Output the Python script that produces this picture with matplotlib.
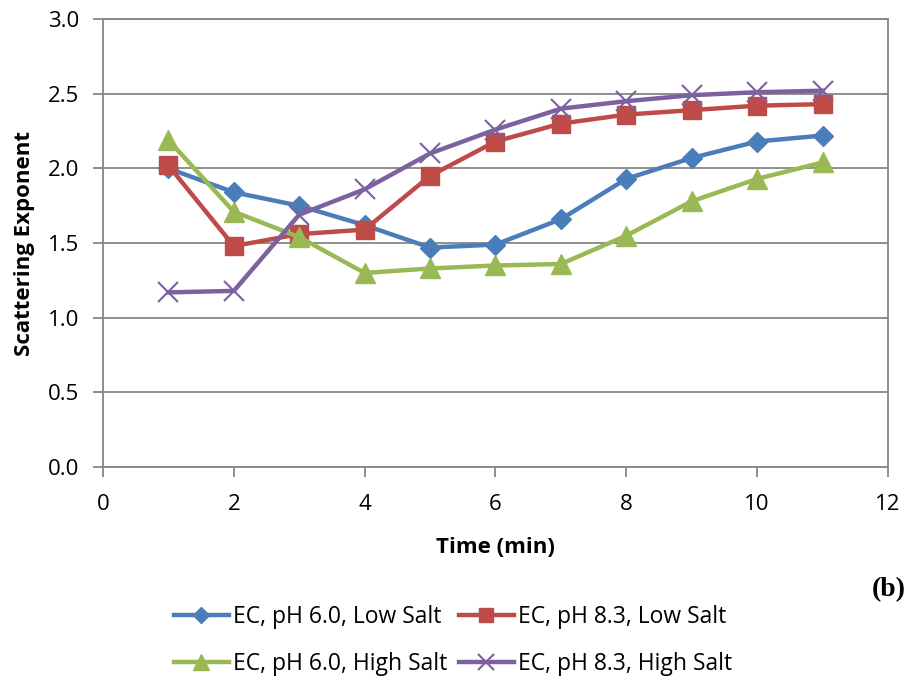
import matplotlib.pyplot as plt

plt.rcParams['font.family'] = ['Open Sans', 'DejaVu Sans']

# Scattering exponent over time for each condition
time_min = [1, 2, 3, 4, 5, 6, 7, 8, 9, 10, 11]
ph60_low = [2.00, 1.84, 1.75, 1.62, 1.47, 1.49, 1.66, 1.93, 2.07, 2.18, 2.22]
ph83_low = [2.02, 1.48, 1.56, 1.59, 1.95, 2.18, 2.30, 2.36, 2.39, 2.42, 2.43]
ph60_high = [2.19, 1.71, 1.54, 1.30, 1.33, 1.35, 1.36, 1.55, 1.78, 1.93, 2.04]
ph83_high = [1.17, 1.18, 1.69, 1.86, 2.10, 2.26, 2.40, 2.45, 2.49, 2.51, 2.52]

labels = ['EC, pH 6.0, Low Salt', 'EC, pH 8.3, Low Salt',
          'EC, pH 6.0, High Salt', 'EC, pH 8.3, High Salt']
x_ticks = [0, 2, 4, 6, 8, 10, 12]
y_ticks = [0.0, 0.5, 1.0, 1.5, 2.0, 2.5, 3.0]

fig = plt.figure(figsize=(9.08, 6.79), dpi=100)
ax = fig.add_axes([0.1134, 0.312, 0.8646, 0.66])

grey = '#868686'
ax.plot(time_min, ph60_low, color='#4A7EBB', lw=3.2, marker='D', ms=10,
        label=labels[0], zorder=3)
ax.plot(time_min, ph83_low, color='#BE4B48', lw=3.2, marker='s', ms=13,
        label=labels[1], zorder=3)
ax.plot(time_min, ph60_high, color='#98B954', lw=3.2, marker='^', ms=15,
        label=labels[2], zorder=3)
ax.plot(time_min, ph83_high, color='#7D60A0', lw=3.2, marker='x', ms=14,
        mew=1.5, label=labels[3], zorder=4)

ax.set_xlim(0, 12)
ax.set_ylim(0, 3.0)
ax.set_xticks(x_ticks)
ax.set_yticks(y_ticks)
ax.set_yticklabels([f'{v:.1f}' for v in y_ticks])
ax.yaxis.grid(True, color=grey, lw=1.3)
ax.set_axisbelow(True)
for side in ['left', 'right', 'top', 'bottom']:
    ax.spines[side].set_color(grey)
    ax.spines[side].set_linewidth(1.3)
ax.tick_params(axis='both', direction='out', length=7, width=1.3,
               color=grey, labelsize=16, pad=10)
ax.tick_params(axis='x', pad=12)

ax.set_xlabel('Time (min)', fontsize=16, fontweight='bold', labelpad=16)
ax.set_ylabel('Scattering Exponent', fontsize=16, fontweight='bold', labelpad=9)

# row-wise legend order: fig.legend fills columns first
handles, leg_labels = ax.get_legend_handles_labels()
order = [0, 2, 1, 3]
fig.legend([handles[i] for i in order], [leg_labels[i] for i in order],
           ncol=2, loc='center', bbox_to_anchor=(0.499, 0.057),
           frameon=False, fontsize=16.5, handlelength=2.4, handletextpad=0.2,
           columnspacing=0.5, labelspacing=1.0, markerscale=0.8,
           borderaxespad=0)

fig.text(0.997, 0.131, '(b)', fontsize=20, fontweight='bold',
         family='Liberation Serif', ha='right', va='center')

fig.savefig('out.png', dpi=100)
